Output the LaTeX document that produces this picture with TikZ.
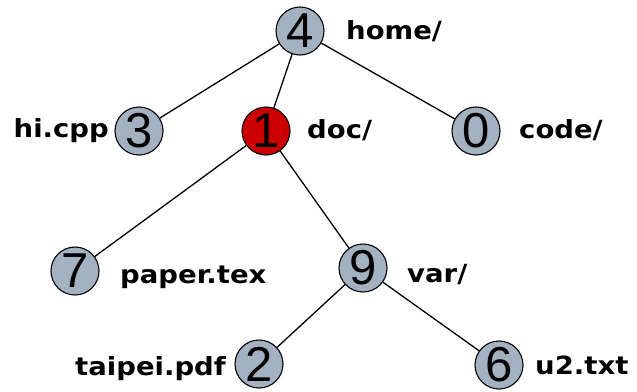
\documentclass[tikz,border=0pt]{standalone}
\usepackage{fontspec}
\newfontfamily\labelfont[FakeStretch=1.1]{DejaVu Sans Bold}
\newfontfamily\digitfont{Liberation Sans}
\definecolor{nodegray}{RGB}{163,177,193}
\definecolor{nodered}{RGB}{204,0,0}
\begin{document}
\begin{tikzpicture}[x=1pt,y=-1pt,
  vertex/.style={circle,draw=black,line width=1.1pt,fill=nodegray,minimum size=48pt,inner sep=0pt,
    font=\digitfont\fontsize{49}{49}\selectfont},
  hot/.style={vertex,fill=nodered},
  fname/.style={inner sep=0pt,font=\labelfont\fontsize{25}{26}\selectfont},
  edge/.style={line width=1.3pt,black}]
\useasboundingbox (0,0) rectangle (637,391);

% tree nodes
\node[vertex] (n4) at (300,31) {4};
\node[vertex] (n3) at (139,131) {3};
\node[hot]    (n1) at (266,131) {1};
\node[vertex] (n0) at (476,131) {0};
\node[vertex] (n7) at (75,271) {7};
\node[vertex] (n9) at (363,268) {9};
\node[vertex] (n2) at (259,364) {2};
\node[vertex] (n6) at (499,365) {6};

% file names
\node[fname,anchor=base west] (l4) at (346,39) {home/};
\node[fname,anchor=base east] (l3) at (109,137) {hi.cpp};
\node[fname,anchor=base west] (l1) at (307,138) {doc/};
\node[fname,anchor=base west] (l0) at (519,138) {code/};
\node[fname,anchor=base west] (l7) at (120,283) {paper.tex};
\node[fname,anchor=base west] (l9) at (407,282) {var/};
\node[fname,anchor=base west] (l2) at (75,375) {taipei.pdf};
\node[fname,anchor=base west] (l6) at (535,374) {u2.txt};

% edges
\draw[edge] (n4) -- (n3);
\draw[edge] (n4) -- (n1);
\draw[edge] (n4) -- (n0);
\draw[edge] (n1) -- (n7);
\draw[edge] (n1) -- (n9);
\draw[edge] (n9) -- (n2);
\draw[edge] (n9) -- (n6);
\end{tikzpicture}
\end{document}
